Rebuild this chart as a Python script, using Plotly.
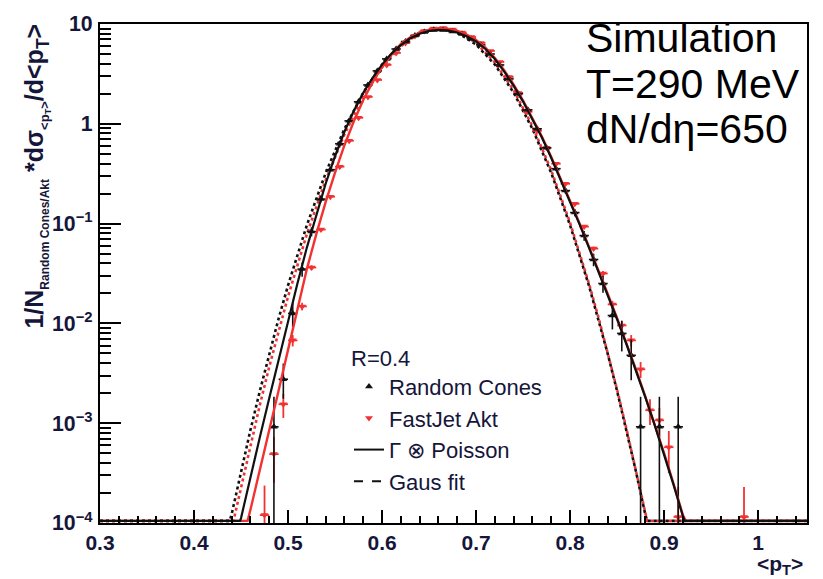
import plotly.graph_objects as go

# ---------------- data ----------------
FLOOR = 1.05e-4  # curves below the axis minimum are drawn along the floor

# Gamma (x) Poisson fit, Random Cones (black solid)
RC_FIT_X = [0.30, 0.449, 0.45, 0.46, 0.47, 0.48, 0.49, 0.50, 0.51, 0.52, 0.53, 0.54, 0.55, 0.56,
            0.57, 0.58, 0.59, 0.60, 0.61, 0.62, 0.63, 0.64, 0.65, 0.66, 0.67, 0.68, 0.69, 0.70,
            0.71, 0.72, 0.73, 0.74, 0.75, 0.76, 0.77, 0.78, 0.79, 0.80, 0.81, 0.82, 0.83, 0.84,
            0.85, 0.86, 0.87, 0.88, 0.89, 0.90, 0.91, 0.92, 0.922, 1.052]
RC_FIT_Y = [FLOOR, FLOOR, 1.12e-4, 2.91e-4, 7.24e-4, 1.78e-3, 4.37e-3, 0.0105, 0.0251, 0.0575,
            0.123, 0.251, 0.473, 0.832, 1.355, 2.04, 2.89, 3.92, 5.05, 6.15, 7.19, 8.00, 8.53,
            8.73, 8.62, 8.22, 7.55, 6.68, 5.62, 4.46, 3.34, 2.40, 1.67, 1.12, 0.728, 0.454,
            0.277, 0.166, 0.0989, 0.0578, 0.0337, 0.0193, 0.0110, 6.18e-3, 3.39e-3, 1.82e-3,
            9.55e-4, 4.90e-4, 2.42e-4, 1.17e-4, FLOOR, FLOOR]

# Gamma (x) Poisson fit, FastJet Akt (red solid)
AKT_FIT_X = [0.30, 0.457, 0.46, 0.47, 0.48, 0.49, 0.50, 0.51, 0.52, 0.53, 0.54, 0.55, 0.56,
             0.57, 0.58, 0.59, 0.60, 0.61, 0.62, 0.63, 0.64, 0.65, 0.66, 0.67, 0.68, 0.69, 0.70,
             0.71, 0.72, 0.73, 0.74, 0.75, 0.76, 0.77, 0.78, 0.79, 0.80, 0.81, 0.82, 0.83, 0.84,
             0.85, 0.86, 0.87, 0.88, 0.89, 0.90, 0.91, 0.92, 0.923, 1.052]
AKT_FIT_Y = [FLOOR, FLOOR, 1.36e-4, 3.49e-4, 8.67e-4, 2.13e-3, 5.43e-3, 0.0136, 0.035, 0.078,
             0.164, 0.324, 0.610, 1.06, 1.73, 2.61, 3.69, 4.92, 6.31, 7.36, 8.22, 8.79, 9.02,
             8.91, 8.51, 7.82, 6.92, 5.79, 4.57, 3.43, 2.47, 1.71, 1.14, 0.745, 0.465, 0.284,
             0.169, 0.101, 0.0592, 0.0345, 0.0198, 0.0113, 6.32e-3, 3.47e-3, 1.86e-3, 9.77e-4,
             5.01e-4, 2.48e-4, 1.20e-4, FLOOR, FLOOR]

# Gaussian fits (dotted)
RC_GAUS_X = [0.30, 0.438, 0.44, 0.45, 0.46, 0.47, 0.48, 0.49, 0.50, 0.52, 0.54, 0.56, 0.58, 0.60,
             0.62, 0.64, 0.66, 0.68, 0.70, 0.72, 0.74, 0.76, 0.78, 0.80, 0.82, 0.83, 0.84, 0.85,
             0.86, 0.87, 0.88, 0.882, 1.052]
RC_GAUS_Y = [FLOOR, FLOOR, 1.22e-4, 3.30e-4, 8.53e-4, 2.10e-3, 4.97e-3, 0.0112, 0.0240, 0.0962,
             0.321, 0.889, 2.05, 3.92, 6.22, 8.22, 9.02, 8.22, 6.22, 3.92, 2.05, 0.889, 0.321,
             0.0962, 0.0240, 0.0112, 4.97e-3, 2.10e-3, 8.53e-4, 3.30e-4, 1.22e-4, FLOOR, FLOOR]
AKT_GAUS_X = [0.30, 0.442, 0.45, 0.46, 0.47, 0.48, 0.49, 0.50, 0.52, 0.54, 0.56, 0.58, 0.60,
              0.62, 0.64, 0.66, 0.68, 0.70, 0.72, 0.74, 0.76, 0.78, 0.80, 0.82, 0.83, 0.84, 0.85,
              0.86, 0.87, 0.88, 0.882, 1.052]
AKT_GAUS_Y = [FLOOR, FLOOR, 2.25e-4, 6.0e-4, 1.52e-3, 3.67e-3, 8.47e-3, 0.0186, 0.0782, 0.272,
              0.783, 1.87, 3.68, 6.01, 8.13, 9.12, 8.45, 6.49, 4.12, 2.17, 0.946, 0.341, 0.102,
              0.0252, 0.0117, 5.15e-3, 2.17e-3, 8.75e-4, 3.35e-4, 1.23e-4, FLOOR, FLOOR]

# FastJet Akt histogram (red, triangle down)
AKT_X = [0.475, 0.485, 0.495, 0.505, 0.515, 0.525, 0.535, 0.545, 0.555, 0.565, 0.575, 0.585,
         0.595, 0.605, 0.615, 0.625, 0.635, 0.645, 0.655, 0.665, 0.675, 0.685, 0.695, 0.705,
         0.715, 0.725, 0.735, 0.745, 0.755, 0.765, 0.775, 0.785, 0.795, 0.805, 0.815, 0.825,
         0.835, 0.845, 0.855, 0.865, 0.875, 0.885, 0.895, 0.905, 0.915, 0.985]
AKT_Y = [1.2e-4, 4.9e-4, 1.55e-3, 6.76e-3, 0.0148, 0.0363, 0.0871, 0.186, 0.372, 0.676, 1.15,
         1.86, 2.75, 3.89, 5.13, 6.46, 7.59, 8.51, 9.02, 9.12, 8.81, 8.22, 7.41, 6.46, 5.37,
         4.17, 2.95, 2.04, 1.32, 0.851, 0.575, 0.398, 0.251, 0.158, 0.0933, 0.0562, 0.0316,
         0.0155, 9.55e-3, 6.76e-3, 3.47e-3, 1.35e-3, 1.07e-3, 5.75e-4, 1.15e-4, 1.15e-4]
AKT_ERR_UP = [1.17e-4, 2.37e-4, 4.2e-4, 8.8e-4, 1.3e-3, 2.0e-3, 3.2e-3, 4.6e-3, 6.5e-3, 8.8e-3,
              0.0115, 0.0146, 0.0178, 0.0212, 0.0243, 0.0273, 0.0295, 0.0313, 0.0322, 0.0324,
              0.0318, 0.0307, 0.0292, 0.0273, 0.0248, 0.0219, 0.0184, 0.0153, 0.0123, 9.9e-3,
              8.1e-3, 6.8e-3, 5.4e-3, 4.3e-3, 3.3e-3, 2.5e-3, 1.9e-3, 1.3e-3, 1.05e-3, 8.8e-4,
              6.3e-4, 3.9e-4, 3.5e-4, 2.6e-4, 1.15e-4, 1.15e-4]
AKT_ERR_DN = [1.19e-4, 2.37e-4, 4.2e-4, 8.8e-4, 1.3e-3, 2.0e-3, 3.2e-3, 4.6e-3, 6.5e-3, 8.8e-3,
              0.0115, 0.0146, 0.0178, 0.0212, 0.0243, 0.0273, 0.0295, 0.0313, 0.0322, 0.0324,
              0.0318, 0.0307, 0.0292, 0.0273, 0.0248, 0.0219, 0.0184, 0.0153, 0.0123, 9.9e-3,
              8.1e-3, 6.8e-3, 5.4e-3, 4.3e-3, 3.3e-3, 2.5e-3, 1.9e-3, 1.3e-3, 1.05e-3, 8.8e-4,
              6.3e-4, 3.9e-4, 3.5e-4, 2.6e-4, 1.14e-4, 1.14e-4]

# Random Cones histogram (black, triangle up)
RC_X = [0.485, 0.495, 0.505, 0.515, 0.525, 0.535, 0.545, 0.555, 0.565, 0.575, 0.585, 0.595,
        0.605, 0.615, 0.625, 0.635, 0.645, 0.655, 0.665, 0.675, 0.685, 0.695, 0.705, 0.715,
        0.725, 0.735, 0.745, 0.755, 0.765, 0.775, 0.785, 0.795, 0.805, 0.815, 0.825, 0.835,
        0.845, 0.855, 0.865, 0.875, 0.885, 0.895, 0.905, 0.915]
RC_Y = [9.2e-4, 2.76e-3, 0.0126, 0.035, 0.0832, 0.176, 0.347, 0.631, 1.07, 1.66, 2.45, 3.39,
        4.47, 5.62, 6.68, 7.67, 8.32, 8.71, 8.71, 8.41, 7.94, 7.08, 6.17, 5.01, 3.89, 2.82,
        2.0, 1.38, 0.891, 0.575, 0.355, 0.214, 0.129, 0.0759, 0.0437, 0.0251, 0.0120,
        7.94e-3, 4.79e-3, 9.2e-4, None, 9.2e-4, None, 9.2e-4]
RC_ERR_UP = [9.2e-4, 1.2e-3, 3.4e-3, 5.7e-3, 8.7e-3, 0.0127, 0.0179, 0.0241, 0.0314, 0.039,
             0.0475, 0.0558, 0.0641, 0.0719, 0.0784, 0.084, 0.0875, 0.0895, 0.0895, 0.088,
             0.0855, 0.0807, 0.0753, 0.0679, 0.0598, 0.0509, 0.0429, 0.0356, 0.0286, 0.023,
             0.0181, 0.014, 0.0109, 8.4e-3, 6.3e-3, 4.8e-3, 3.3e-3, 2.7e-3, 2.1e-3, 9.2e-4,
             0, 9.2e-4, 0, 9.2e-4]
RC_ERR_DN = [9.1e-4, 1.0e-3, 3.4e-3, 5.7e-3, 8.7e-3, 0.0127, 0.0179, 0.0241, 0.0314, 0.039,
             0.0475, 0.0558, 0.0641, 0.0719, 0.0784, 0.084, 0.0875, 0.0895, 0.0895, 0.088,
             0.0855, 0.0807, 0.0753, 0.0679, 0.0598, 0.0509, 0.0429, 0.0356, 0.0286, 0.023,
             0.0181, 0.014, 0.0109, 8.4e-3, 6.3e-3, 4.8e-3, 3.3e-3, 2.7e-3, 2.1e-3, 9.1e-4,
             0, 9.1e-4, 0, 9.1e-4]
BIN_HALF = 0.005

LEGEND_TITLE = "R=0.4"
LEGEND_NAMES = ["Random Cones", "FastJet Akt", "\u0393 \u2297 Poisson", "Gaus fit"]
INFO_LINES = ["Simulation", "T=290 MeV", "dN/d\u03b7=650"]
X_TITLE = "&lt;p<sub>T</sub>&gt;"
Y_TITLE = ("1/N<sub><span style='font-size:12px'>Random Cones/Akt</span></sub> *d\u03c3"
           "<sub><span style='font-size:13px'>&lt;p<sub>T</sub>&gt;</span></sub>"
           "/d&lt;p<sub>T</sub>&gt;")

# ---------------- styling ----------------
BLACK = "#111111"
RED = "#f23232"
NAVY = "#15163a"
FONT = "Liberation Sans, Arial, Helvetica, sans-serif"

W, H = 823, 579
L, R, T, B = 100, 16, 16, 56
PW, PH = W - L - R, H - T - B


def px2x(px):
    return (px - L) / PW


def py2y(py):
    return 1 - (py - T) / PH


fig = go.Figure()

# Gaussian fits (dotted)
fig.add_trace(go.Scatter(x=AKT_GAUS_X, y=AKT_GAUS_Y, mode="lines", showlegend=False,
                         line=dict(color=RED, width=2.6, dash="dot"), hoverinfo="skip"))
fig.add_trace(go.Scatter(x=RC_GAUS_X, y=RC_GAUS_Y, mode="lines", showlegend=False,
                         line=dict(color=BLACK, width=2.6, dash="dot"), hoverinfo="skip"))

# histograms
fig.add_trace(go.Scatter(
    x=AKT_X, y=AKT_Y, mode="markers", showlegend=False,
    marker=dict(symbol="triangle-down", size=7, color=RED),
    error_y=dict(type="data", symmetric=False, array=AKT_ERR_UP, arrayminus=AKT_ERR_DN,
                 color=RED, thickness=1.8, width=0),
    error_x=dict(type="constant", value=BIN_HALF, color=RED, thickness=1.8, width=0)))
fig.add_trace(go.Scatter(
    x=RC_X, y=RC_Y, mode="markers", showlegend=False,
    marker=dict(symbol="triangle-up", size=7, color=BLACK),
    error_y=dict(type="data", symmetric=False, array=RC_ERR_UP, arrayminus=RC_ERR_DN,
                 color=BLACK, thickness=1.6, width=0),
    error_x=dict(type="constant", value=BIN_HALF, color=BLACK, thickness=1.6, width=0)))

# Gamma x Poisson fits (solid)
fig.add_trace(go.Scatter(x=AKT_FIT_X, y=AKT_FIT_Y, mode="lines", showlegend=False,
                         line=dict(color=RED, width=2.4), hoverinfo="skip"))
fig.add_trace(go.Scatter(x=RC_FIT_X, y=RC_FIT_Y, mode="lines", showlegend=False,
                         line=dict(color=BLACK, width=2.2), hoverinfo="skip"))

# legend entries
fig.add_trace(go.Scatter(x=[None], y=[None], mode="markers", name=LEGEND_NAMES[0],
                         marker=dict(symbol="triangle-up", size=7, color=BLACK)))
fig.add_trace(go.Scatter(x=[None], y=[None], mode="markers", name=LEGEND_NAMES[1],
                         marker=dict(symbol="triangle-down", size=7, color=RED)))
fig.add_trace(go.Scatter(x=[None], y=[None], mode="lines", name=LEGEND_NAMES[2],
                         line=dict(color=BLACK, width=2)))
fig.add_trace(go.Scatter(x=[None], y=[None], mode="lines", name=LEGEND_NAMES[3],
                         line=dict(color=BLACK, width=2, dash="dash")))

annotations = []
info_y = [30, 77, 123]
for txt, yy in zip(INFO_LINES, info_y):
    annotations.append(dict(text=txt, x=px2x(584), y=py2y(yy), xref="paper", yref="paper",
                            xanchor="left", yanchor="middle", showarrow=False,
                            font=dict(family=FONT, size=41, color="black")))
annotations.append(dict(text=X_TITLE, x=px2x(755), y=py2y(566), xref="paper", yref="paper",
                        xanchor="left", yanchor="middle", showarrow=False,
                        font=dict(family=FONT, size=21, color=NAVY, weight="bold")))
annotations.append(dict(text=Y_TITLE, x=px2x(37), y=py2y(171), xref="paper", yref="paper",
                        xanchor="center", yanchor="middle", textangle=-90, showarrow=False,
                        font=dict(family=FONT, size=25, color=NAVY, weight="bold")))

fig.update_layout(
    width=W, height=H,
    margin=dict(l=L, r=R, t=T, b=B, pad=0),
    paper_bgcolor="white", plot_bgcolor="white",
    showlegend=True,
    legend=dict(
        title=dict(text=LEGEND_TITLE, font=dict(family=FONT, size=22, color=NAVY)),
        font=dict(family=FONT, size=22, color=NAVY),
        x=px2x(349), y=py2y(334), xanchor="left", yanchor="top",
        bgcolor="rgba(0,0,0,0)", borderwidth=0, tracegroupgap=0,
        itemsizing="trace",
    ),
    annotations=annotations,
)

fig.update_xaxes(
    range=[0.3, 1.052], dtick=0.1, tick0=0.3,
    showgrid=False, zeroline=False,
    showline=True, linewidth=2, linecolor="black", mirror=True,
    ticks="inside", ticklen=13, tickwidth=1.6, tickcolor="black",
    minor=dict(dtick=0.02, tick0=0.3, ticks="inside", ticklen=7, tickwidth=1.6,
               tickcolor="black", showgrid=False),
    tickfont=dict(family=FONT, size=21, color=NAVY, weight="bold"),
    ticklabelstandoff=0,
)
fig.update_yaxes(
    type="log", range=[-4, 1], dtick=1, exponentformat="power",
    showgrid=False, zeroline=False,
    showline=True, linewidth=2, linecolor="black", mirror=True,
    ticks="inside", ticklen=21, tickwidth=1.6, tickcolor="black",
    minor=dict(dtick="D1", ticks="inside", ticklen=11, tickwidth=1.6,
               tickcolor="black", showgrid=False),
    tickfont=dict(family=FONT, size=17, color=NAVY, weight="bold"),
    ticklabelstandoff=2,
)

fig.write_html("out.html", config={"displayModeBar": False})
